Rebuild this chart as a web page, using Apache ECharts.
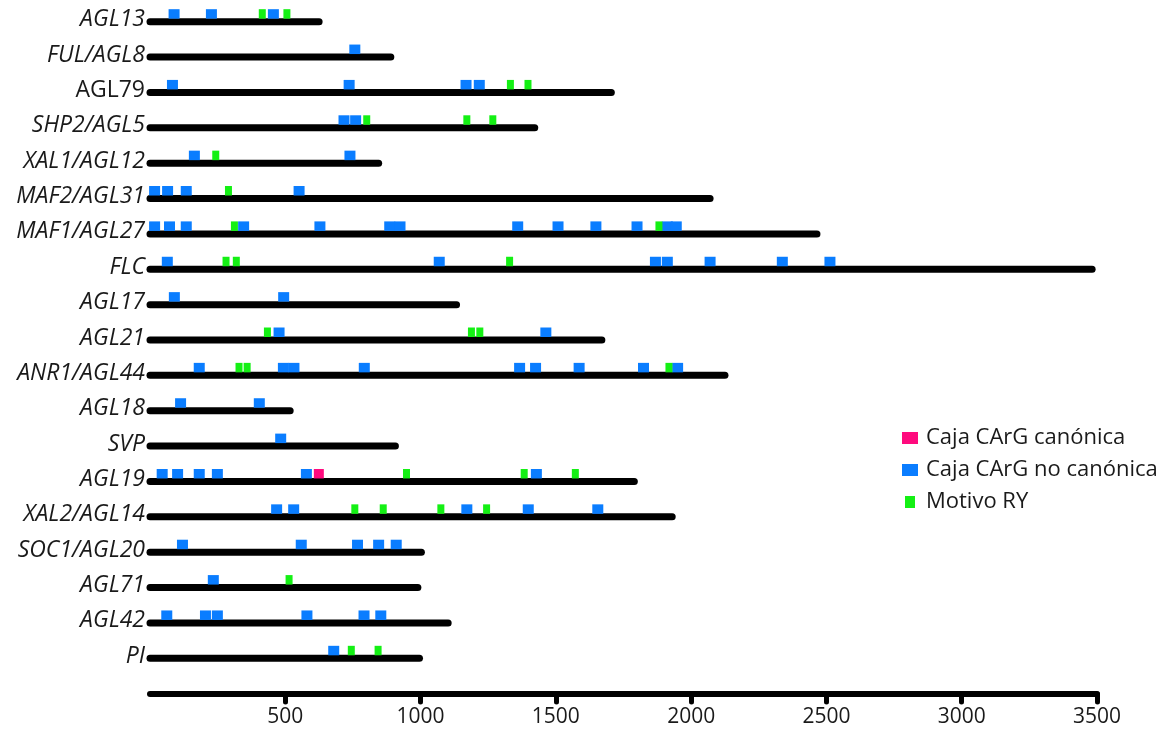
<!DOCTYPE html>
<html>
<head>
<meta charset="utf-8">
<script src="https://cdn.jsdelivr.net/npm/echarts@6/dist/echarts.min.js"></script>
<style>
  html, body { margin: 0; padding: 0; background: #ffffff; }
  #chart { width: 1162px; height: 733px; }
</style>
</head>
<body>
<div id="chart"></div>
<script>
// Promoter regions (bp upstream of the start site) and the motifs found in each
const genes = ['AGL13', 'FUL/AGL8', 'AGL79', 'SHP2/AGL5', 'XAL1/AGL12', 'MAF2/AGL31',
  'MAF1/AGL27', 'FLC', 'AGL17', 'AGL21', 'ANR1/AGL44', 'AGL18', 'SVP', 'AGL19',
  'XAL2/AGL14', 'SOC1/AGL20', 'AGL71', 'AGL42', 'PI'];

const promoterLength = [625, 890, 1705, 1422, 845, 2070, 2465, 3482, 1133, 1670, 2125,
  518, 907, 1790, 1930, 1003, 990, 1102, 996];

// Motif centre positions per gene (same order as genes)
const carGCanonical = [
  [], [], [], [], [], [], [], [], [], [], [], [], [], [624], [], [], [], [], []
];

const carGNonCanonical = [
  [89, 227, 456],
  [757],
  [83, 736, 1168, 1217],
  [717, 760],
  [164, 739],
  [17, 65, 134, 551],
  [17, 72, 134, 346, 628, 886, 924, 1359, 1508, 1648, 1800, 1912, 1945],
  [64, 1069, 1868, 1912, 2070, 2337, 2513],
  [90, 494],
  [477, 1463],
  [182, 493, 532, 792, 1366, 1425, 1586, 1824, 1950],
  [113, 404],
  [483],
  [45, 102, 182, 249, 578, 1428],
  [468, 531, 1171, 1398, 1655],
  [120, 559, 767, 845, 910],
  [234],
  [62, 205, 249, 580, 791, 853],
  [679]
];

const ryMotif = [
  [415, 506],
  [],
  [1332, 1397],
  [801, 1171, 1267],
  [243],
  [290],
  [312, 1881],
  [281, 319, 1329],
  [],
  [434, 1188, 1219],
  [329, 359, 1918],
  [],
  [],
  [948, 1383, 1572],
  [757, 862, 1075, 1244],
  [],
  [514],
  [],
  [744, 843]
];

const axisTicks = [500, 1000, 1500, 2000, 2500, 3000, 3500];

const seriesNames = ['Caja CArG canónica', 'Caja CArG no canónica', 'Motivo RY'];

function toPoints(list) {
  const out = [];
  list.forEach((positions, geneIdx) => positions.forEach(p => out.push([p, geneIdx])));
  return out;
}

// small boxes sitting on top of a promoter line
function motifRenderer(widthPx) {
  return function (params, api) {
    const c = api.coord([api.value(0), api.value(1)]);
    return {
      type: 'rect',
      shape: { x: c[0] - widthPx / 2, y: c[1] - 12.5, width: widthPx, height: 9.5 },
      style: { fill: api.visual('color') }
    };
  };
}

function promoterRenderer(params, api) {
  const a = api.coord([0, api.value(1)]);
  const b = api.coord([api.value(0), api.value(1)]);
  return {
    type: 'line',
    shape: { x1: a[0], y1: a[1], x2: b[0], y2: b[1] },
    style: { stroke: '#000000', lineWidth: 7, lineCap: 'round' }
  };
}

const FONT = '"Open Sans"';

const chart = echarts.init(document.getElementById('chart'), null, { renderer: 'canvas' });

chart.setOption({
  animation: false,
  backgroundColor: '#ffffff',
  grid: { left: 150, right: 65, top: 4, bottom: 57 },
  legend: {
    orient: 'vertical',
    left: 897,
    top: 422,
    itemWidth: 16,
    itemHeight: 12,
    itemGap: 10,
    textStyle: { fontFamily: FONT, fontSize: 22, color: '#1a1a1a', padding: [0, 0, 0, 3] },
    data: [
      { name: seriesNames[0], icon: 'rect' },
      { name: seriesNames[1], icon: 'rect' },
      { name: seriesNames[2], icon: 'path://M0,0h10v12h-10z' }
    ]
  },
  xAxis: {
    type: 'value',
    min: 0,
    max: 3500,
    interval: 500,
    position: 'bottom',
    offset: 18,
    splitLine: { show: false },
    axisLine: { show: true, lineStyle: { color: '#000000', width: 6, cap: 'round' } },
    axisTick: { show: true, customValues: axisTicks, length: 8, lineStyle: { color: '#000000', width: 5, cap: 'round' } },
    axisLabel: {
      customValues: axisTicks,
      formatter: v => String(v),
      margin: 13,
      fontFamily: FONT,
      fontSize: 21,
      color: '#1a1a1a'
    }
  },
  yAxis: {
    type: 'category',
    data: genes,
    inverse: true,
    axisLine: { show: false },
    axisTick: { show: false },
    splitLine: { show: false },
    axisLabel: {
      margin: 5,
      formatter: v => v === 'AGL79' ? '{n|' + v + '}' : '{i|' + v + '}',
      rich: {
        i: { fontFamily: FONT, fontSize: 23, fontStyle: 'italic', color: '#1a1a1a', padding: [0, 0, 4, 0] },
        n: { fontFamily: FONT, fontSize: 23, color: '#1a1a1a', padding: [0, 0, 4, 0] }
      }
    }
  },
  series: [
    {
      name: 'promotor',
      type: 'custom',
      renderItem: promoterRenderer,
      encode: { x: 0, y: 1 },
      data: promoterLength.map((len, i) => [len, i]),
      z: 1,
      silent: true
    },
    {
      name: seriesNames[0],
      type: 'custom',
      renderItem: motifRenderer(10),
      encode: { x: 0, y: 1 },
      itemStyle: { color: '#ff0a7e' },
      data: toPoints(carGCanonical),
      z: 3
    },
    {
      name: seriesNames[1],
      type: 'custom',
      renderItem: motifRenderer(11),
      encode: { x: 0, y: 1 },
      itemStyle: { color: '#0a7dff' },
      data: toPoints(carGNonCanonical),
      z: 2
    },
    {
      name: seriesNames[2],
      type: 'custom',
      renderItem: motifRenderer(7),
      encode: { x: 0, y: 1 },
      itemStyle: { color: '#14f014' },
      data: toPoints(ryMotif),
      z: 3
    }
  ]
});
</script>
</body>
</html>
